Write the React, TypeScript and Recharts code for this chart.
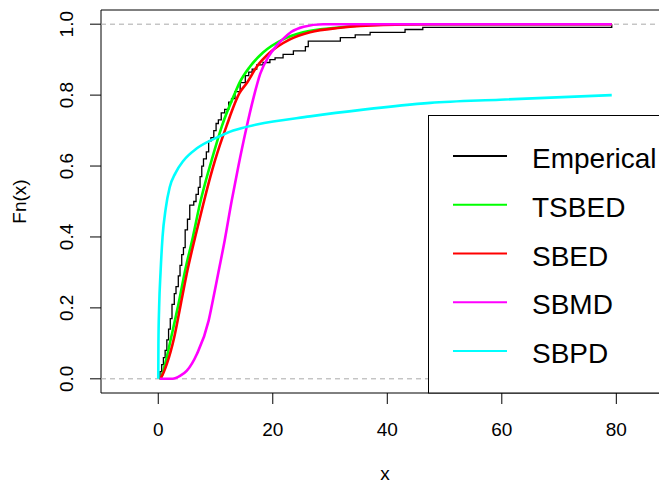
import React from "react";
import { LineChart, Line, XAxis, YAxis, ReferenceLine, ReferenceArea, Legend } from "recharts";

/* ── data ── */
const X_TICKS = [0, 20, 40, 60, 80];
const Y_TICKS = [0, 0.2, 0.4, 0.6, 0.8, 1];

// empirical cdf knots [x, Fn(x)]
const empirical: [number, number][] = [
  [0.2, 0], [0.3, 0.02], [0.6, 0.04], [0.9, 0.06], [1.2, 0.08], [1.5, 0.11],
  [1.8, 0.14], [2.1, 0.17], [2.4, 0.21], [2.8, 0.24], [3.1, 0.26], [3.5, 0.29],
  [3.8, 0.32], [4.1, 0.35], [4.4, 0.37], [4.7, 0.42], [5.1, 0.45], [5.5, 0.49],
  [6.2, 0.5], [6.6, 0.52], [7.0, 0.54], [7.3, 0.57], [7.6, 0.6], [7.9, 0.62],
  [8.4, 0.64], [8.8, 0.67], [9.2, 0.68], [9.7, 0.7], [10.1, 0.72], [10.5, 0.73],
  [11.0, 0.75], [11.6, 0.76], [12.3, 0.78], [12.8, 0.79], [13.4, 0.81],
  [14.3, 0.835], [15.2, 0.855], [15.8, 0.865], [16.4, 0.873], [17.2, 0.885],
  [18.3, 0.892], [19.5, 0.9], [20.4, 0.905], [21.8, 0.915], [23.6, 0.925],
  [25.7, 0.937], [26.2, 0.952], [31.8, 0.962], [34.4, 0.97], [37.0, 0.977],
  [43.1, 0.985], [46.2, 0.991], [79.2, 1.0],
];

const tsbed: [number, number][] = [
  [0.3, 0], [0.5, 0.004], [1.2, 0.042], [2.27, 0.118], [3.55, 0.212], [4.7, 0.306],
  [6.05, 0.4], [7.3, 0.495], [8.5, 0.57], [9.35, 0.618], [11.1, 0.712], [13.4, 0.806],
  [14.2, 0.835], [16.0, 0.88], [18.3, 0.92], [21.8, 0.957], [25.3, 0.977],
  [31.2, 0.99], [37.0, 0.998], [45.0, 1.0], [79.2, 1.0],
];

const sbed: [number, number][] = [
  [0.3, 0], [0.5, 0.004], [1.5, 0.042], [2.8, 0.118], [3.95, 0.212], [5.1, 0.306],
  [6.45, 0.4], [7.9, 0.495], [9.1, 0.57], [9.95, 0.618], [11.9, 0.712], [14.2, 0.806],
  [15.5, 0.835], [17.2, 0.88], [19.5, 0.92], [23.0, 0.957], [26.5, 0.977],
  [31.8, 0.99], [39.3, 0.998], [48.0, 1.0], [79.2, 1.0],
];

const sbmd: [number, number][] = [
  [0.3, 0], [2.5, 0], [3.8, 0.008], [5.0, 0.023], [6.75, 0.07], [8.8, 0.164],
  [9.4, 0.21], [10.5, 0.3], [11.6, 0.39], [12.8, 0.5], [14.0, 0.6], [15.3, 0.7],
  [16.6, 0.79], [17.8, 0.86], [19.3, 0.91], [20.7, 0.94], [21.9, 0.96],
  [23.2, 0.978], [25.4, 0.993], [28.8, 1.0], [79.2, 1.0],
];

const sbpd: [number, number][] = [
  [0, 0], [0.03, 0.1], [0.15, 0.2], [0.4, 0.3], [0.75, 0.4], [1.3, 0.48],
  [2.0, 0.54], [3.0, 0.58], [4.4, 0.615], [6.75, 0.65], [10.2, 0.68],
  [13.1, 0.7], [17.2, 0.717], [26.5, 0.74], [35.8, 0.759], [47.5, 0.778],
  [59.7, 0.787], [79.2, 0.8],
];

const SERIES = [
  { name: "Emperical", color: "#000000", pts: empirical, width: 1.3, step: true },
  { name: "TSBED", color: "#00ff00", pts: tsbed, width: 2.6, step: false },
  { name: "SBED", color: "#ff0000", pts: sbed, width: 2.6, step: false },
  { name: "SBMD", color: "#ff00ff", pts: sbmd, width: 2.6, step: false },
  { name: "SBPD", color: "#00ffff", pts: sbpd, width: 2.6, step: false },
];

const FONT = "'Liberation Sans', Arial, sans-serif";

/* ── axis ticks, R style ── */
const XTick = ({ x, y, payload }: any) => (
  <text x={x} y={y + 30} textAnchor="middle" fontSize={19} fill="#000" fontFamily={FONT}>
    {payload.value}
  </text>
);

const YTick = ({ x, y, payload }: any) => (
  <text
    x={x - 15} y={y} textAnchor="middle" fontSize={19} fill="#000" fontFamily={FONT}
    transform={`rotate(-90, ${x - 15}, ${y})`}
  >
    {Number(payload.value).toFixed(1)}
  </text>
);

const YTitle = () => (
  <text x={26} y={201.5} textAnchor="middle" fontSize={19} fill="#000" fontFamily={FONT}
    transform="rotate(-90, 26, 201.5)">Fn(x)</text>
);

/* ── boxed legend ── */
const LegendBox = () => (
  <svg width={240} height={279} style={{ display: "block" }}>
    <rect x={0.5} y={0.5} width={250} height={277.5} fill="#fff" stroke="#000" />
    {SERIES.map((s, i) => {
      const cy = 41 + i * 48.75;
      return (
        <g key={s.name}>
          <line x1={25} x2={79} y1={cy} y2={cy} stroke={s.color} strokeWidth={2.2} />
          <text x={104} y={cy + 12} fontSize={28} fill="#000" fontFamily={FONT}>{s.name}</text>
        </g>
      );
    })}
  </svg>
);

export default function App() {
  return (
    <div style={{ position: "fixed", left: 0, top: 0, width: 659, height: 485, overflow: "hidden", background: "#fff" }}>
      <LineChart width={700} height={485} margin={{ top: 10, right: 31, bottom: 0, left: 0 }}>
        <XAxis
          type="number" dataKey="x" domain={[-10, 89.2]} ticks={X_TICKS} allowDataOverflow
          height={92} tickSize={11} tickLine={{ stroke: "#000" }} axisLine={false} tick={<XTick />}
          interval={0}
          label={{ value: "x", position: "insideBottom", offset: 5, fontSize: 19, fill: "#000", fontFamily: FONT }}
        />
        <YAxis
          type="number" dataKey="y" domain={[-0.04, 1.04]} ticks={Y_TICKS} allowDataOverflow
          width={101} tickSize={11} tickLine={{ stroke: "#000" }} axisLine={false} tick={<YTick />}
          interval={0}
          label={<YTitle />}
        />
        <ReferenceArea x1={-10} x2={89.2} y1={-0.04} y2={1.04} fill="none" stroke="#000" strokeWidth={1} />
        <ReferenceLine y={0} stroke="#aaaaaa" strokeDasharray="5 4" />
        <ReferenceLine y={1} stroke="#aaaaaa" strokeDasharray="5 4" />
        {SERIES.map((s) => (
          <Line
            key={s.name}
            name={s.name}
            data={s.pts.map(([x, y]) => ({ x, y }))}
            dataKey="y"
            type={s.step ? "stepAfter" : "monotoneX"}
            stroke={s.color}
            strokeWidth={s.width}
            dot={false}
            activeDot={false}
            isAnimationActive={false}
          />
        ))}
        <Legend
          layout="horizontal" verticalAlign="middle" align="center"
          content={<LegendBox />}
          wrapperStyle={{ position: "absolute", left: 428, top: 115, width: 240, height: 279, bottom: "auto", right: "auto" }}
        />
      </LineChart>
    </div>
  );
}
